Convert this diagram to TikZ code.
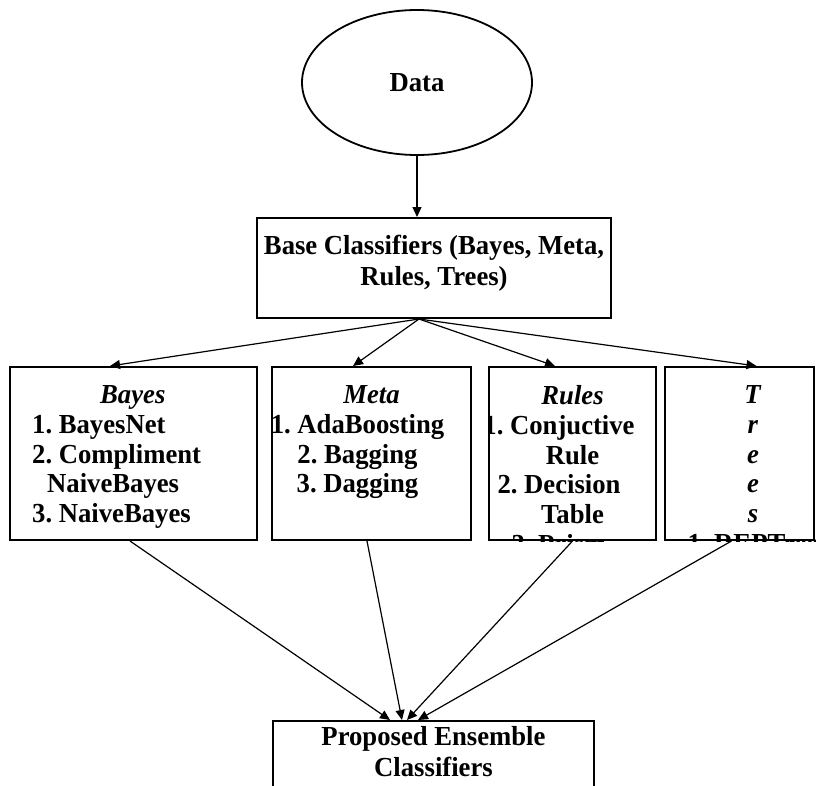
\documentclass[tikz,border=0pt]{standalone}
\usepackage{fontspec}
\setmainfont{Liberation Serif}[FakeStretch=0.97]
\usetikzlibrary{shapes.geometric,arrows.meta}
\frenchspacing

\begin{document}
\begin{tikzpicture}[x=1pt,y=-1pt,
  box/.style={draw,line width=2pt,inner sep=0pt},
  arr/.style={line width=1.2pt,-{Triangle[length=10pt,width=9pt]}},
  txt/.style={inner sep=0pt,align=center,font=\fontsize{27.5}{31}\selectfont\bfseries},
  listtxt/.style={inner sep=0pt,font=\fontsize{27.5}{29.7}\selectfont\bfseries}]
  \useasboundingbox (0,0) rectangle (816,785);
  \clip (0,0) rectangle (816,785);
  \node[draw,ellipse,line width=1.8pt,minimum width=230pt,minimum height=145pt,inner sep=0pt,
    font=\fontsize{27.5}{31}\selectfont\bfseries] (data) at (417,82.5) {Data};
  \node[box,minimum width=354pt,minimum height=100pt] (base) at (434,268) {};
  \node[txt,anchor=north] (basetxt) at (434,235) {Base Classifiers (Bayes, Meta,\\Rules, Trees)};
  \node[box,minimum width=247pt,minimum height=173pt] (bayes) at (133.5,453.5) {};
  \node[box,minimum width=199pt,minimum height=173pt] (meta) at (371.5,453.5) {};
  \node[box,minimum width=167pt,minimum height=173pt] (rules) at (572.5,453.5) {};
  \node[box,minimum width=149pt,minimum height=173pt] (trees) at (739.5,453.5) {};
  \begin{scope}
    \clip (bayes.south west) rectangle (bayes.north east);
    \node[listtxt,align=left,anchor=north west] (bayestxt) at (32,385.5)
      {\hspace*{68pt}\textit{Bayes}\\1. BayesNet\\2. Compliment\\\hspace*{15pt}NaiveBayes\\3. NaiveBayes};
  \end{scope}
  \begin{scope}
    \clip (meta.south west) rectangle (meta.north east);
    \node[listtxt,align=center,anchor=north] (metatxt) at (371.5,385.5)
      {\textit{Meta}\\1. AdaBoosting\rule{28pt}{0pt}\\2. Bagging\rule{28pt}{0pt}\\3. Dagging\rule{28pt}{0pt}};
  \end{scope}
  \begin{scope}
    \clip (rules.south west) rectangle (rules.north east);
    \node[listtxt,align=center,anchor=north] (rulestxt) at (572.5,385.5)
      {\textit{Rules}\\1. Conjuctive\rule{27pt}{0pt}\\Rule\\2. Decision\rule{27pt}{0pt}\\Table\\3. Prism\rule{27pt}{0pt}};
  \end{scope}
  \begin{scope}
    \clip (trees.south west) rectangle (trees.north east);
    \node[listtxt,align=center,anchor=north] (treestxt) at (753,385.5)
      {\textit{T}\\\textit{r}\\\textit{e}\\\textit{e}\\\textit{s}\\1. REPTree};
  \end{scope}
  \node[box,minimum width=321pt,minimum height=84pt] (final) at (433.5,763) {};
  \node[txt,anchor=north] (finaltxt) at (433.5,726.5) {Proposed Ensemble\\Classifiers};
  \draw[arr] (data.south) -- (data.south |- base.north);
  \draw[arr] ([xshift=-15pt]base.south) -- ([xshift=-23.5pt]bayes.north);
  \draw[arr] ([xshift=-15pt]base.south) -- ([xshift=-18.5pt]meta.north);
  \draw[arr] ([xshift=-15pt]base.south) -- ([xshift=-17.5pt]rules.north);
  \draw[arr] ([xshift=-15pt]base.south) -- ([xshift=17pt]trees.north);
  \draw[arr] ([xshift=-3.5pt]bayes.south) -- ([xshift=-43.5pt]final.north);
  \draw[arr] ([xshift=-4.5pt]meta.south) -- ([xshift=-31.5pt]final.north);
  \draw[arr] (rules.south) -- ([xshift=-26.5pt]final.north);
  \draw[arr] ([xshift=-8pt]trees.south) -- ([xshift=-15.5pt]final.north);
\end{tikzpicture}
\end{document}
